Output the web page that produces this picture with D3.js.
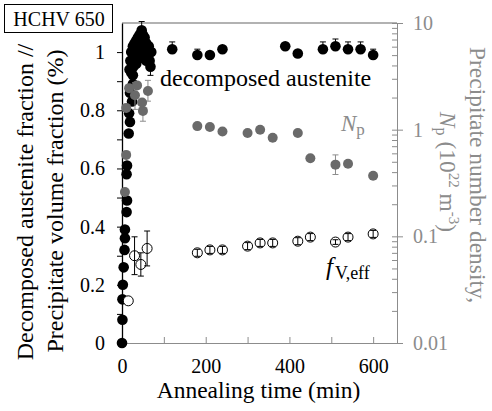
<!DOCTYPE html>
<html>
<head>
<meta charset="utf-8">
<script src="https://cdn.jsdelivr.net/npm/d3@7"></script>
<style>
	body { margin: 0; background: #fff; }
	svg { display: block; font-family: "Liberation Serif", "Times New Roman", serif; }
</style>
</head>
<body>
<svg id="chart" width="492" height="411"></svg>
<script>

// [time (min), fraction, error]
const austenite = [
	[0, 0, 0], [1, 0.08, 0], [1, 0.15, 0], [2, 0.2, 0], [4, 0.26, 0], [6, 0.32, 0],
	[7, 0.36, 0], [7, 0.39, 0], [11, 0.45, 0], [12, 0.49, 0], [11, 0.58, 0], [12, 0.61, 0],
	[16, 0.72, 0], [19, 0.76, 0], [17, 0.79, 0], [24, 0.83, 0], [19, 0.86, 0], [26, 0.89, 0], [26, 0.92, 0],
	[18, 0.94, 0], [20, 0.97, 0], [22, 0.93, 0], [22, 1.0, 0], [24, 0.96, 0], [26, 1.02, 0],
	[27, 0.95, 0], [28, 0.99, 0], [30, 1.03, 0], [30, 0.97, 0], [32, 1.0, 0], [34, 1.04, 0],
	[34, 0.96, 0], [36, 1.01, 0], [38, 1.05, 0], [38, 0.98, 0], [40, 1.02, 0], [42, 1.06, 0],
	[42, 0.99, 0], [44, 1.03, 0], [47, 1.075, 0.03], [46, 1.0, 0], [48, 1.04, 0], [50, 1.06, 0],
	[50, 0.98, 0], [52, 1.02, 0], [54, 1.05, 0], [56, 1.0, 0], [58, 1.03, 0], [58, 0.97, 0],
	[60, 1.01, 0], [62, 0.99, 0], [64, 1.02, 0], [66, 0.97, 0], [68, 0.95, -0.03], [70, 1.0, 0],
	[120, 1.01, 0.025], [180, 0.99, 0.02], [210, 0.99, 0], [240, 1.01, 0], [390, 1.02, 0],
	[420, 0.995, 0], [480, 1.01, 0.025], [510, 1.02, 0.025], [540, 1.01, 0.025],
	[570, 1.01, 0.025], [600, 0.99, 0.02]
];

// [time (min), N_p (10^22 m^-3), low, high]
const numberDensity = [
	[7, 0.26, 0.26, 0.26], [10, 0.58, 0.58, 0.58], [10, 1.6, 1.6, 1.6], [17, 2.45, 2.45, 2.45],
	[31, 2.1, 1.55, 2.75], [36, 2.6, 2.6, 2.6], [48, 1.8, 1.8, 1.8], [50, 1.5, 1.2, 1.85],
	[62, 2.3, 1.85, 2.9],
	[180, 1.08, 1.08, 1.08], [210, 1.06, 1.06, 1.06], [240, 0.96, 0.96, 0.96],
	[300, 0.93, 0.93, 0.93], [330, 1.0, 1.0, 1.0], [360, 0.84, 0.84, 0.84],
	[420, 0.93, 0.93, 0.93], [450, 0.54, 0.54, 0.54], [510, 0.47, 0.38, 0.58],
	[540, 0.48, 0.48, 0.48], [600, 0.37, 0.37, 0.37]
];

// [time (min), f_V,eff (%), error]
const volumeFraction = [
	[15, 0.145, 0], [30, 0.30, 0.065], [45, 0.27, 0.04], [60, 0.325, 0.06],
	[180, 0.31, 0.012], [210, 0.32, 0.012], [240, 0.32, 0.012], [300, 0.333, 0.012],
	[330, 0.344, 0.012], [360, 0.344, 0.012], [420, 0.35, 0.012], [450, 0.364, 0.012],
	[510, 0.347, 0.008], [540, 0.364, 0.012], [600, 0.375, 0.012]
];

const xTicks = [0, 100, 200, 300, 400, 500, 600];
const yTicks = [0, 0.1, 0.2, 0.3, 0.4, 0.5, 0.6, 0.7, 0.8, 0.9, 1.0];
const rTicks = [0.01, 0.1, 1, 10];

const GREY_PT = "#6a6a6a";
const GREY_AX = "#8c8c8c";

class ChartPlot {

	constructor(svg_element_id) {
		this.svg = d3.select('#' + svg_element_id);

		const margin = {left: 122, top: 23, right: 95, bottom: 68};
		const width = 492 - margin.left - margin.right;
		const height = 411 - margin.top - margin.bottom;

		const x = d3.scaleLinear().domain([0, 657]).range([margin.left, margin.left + width]);
		const y = d3.scaleLinear().domain([0, 1.1]).range([margin.top + height, margin.top]);
		const yR = d3.scaleLog().domain([0.01, 10]).range([margin.top + height, margin.top]);

		const bottom = margin.top + height;
		const right = margin.left + width;

		// top frame line
		this.svg.append('line')
			.attr('x1', margin.left).attr('x2', right)
			.attr('y1', margin.top).attr('y2', margin.top)
			.attr('stroke', '#666').attr('stroke-width', 1.2);

		// bottom axis (grey, ticks inward)
		const gx = this.svg.append('g')
			.attr('transform', `translate(0,${bottom})`)
			.call(d3.axisBottom(x).tickValues(xTicks).tickSizeInner(-6).tickSizeOuter(0).tickPadding(16)
				.tickFormat(d => d % 200 === 0 ? d : ''));
		gx.select('.domain').attr('stroke', GREY_AX);
		gx.selectAll('.tick line').attr('stroke', GREY_AX);
		gx.selectAll('text').attr('font-size', 20).attr('fill', '#000').attr('font-family', 'Liberation Serif');

		// right log axis
		const minor = [];
		for (let e = -2; e < 1; e++) {
			for (let m = 2; m <= 9; m++) minor.push(m * Math.pow(10, e));
		}
		const gr = this.svg.append('g').attr('transform', `translate(${right},0)`);
		gr.call(d3.axisRight(yR).tickValues(minor).tickSizeInner(-5).tickSizeOuter(0).tickFormat(''));
		gr.call(g => g.append('g').call(d3.axisRight(yR).tickValues(rTicks).tickSizeInner(6).tickSizeOuter(0)
			.tickPadding(10).tickFormat(d => d3.format('~g')(d))));
		gr.selectAll('.domain').attr('stroke', GREY_AX);
		gr.selectAll('.tick line').attr('stroke', GREY_AX);
		gr.selectAll('text').attr('font-size', 20).attr('fill', GREY_AX).attr('font-family', 'Liberation Serif');
		gr.selectAll('.tick').filter(d => rTicks.includes(d)).select('line').attr('x1', -5);

		// left axis (black)
		const gy = this.svg.append('g')
			.attr('transform', `translate(${margin.left},0)`)
			.call(d3.axisLeft(y).tickValues(yTicks).tickSizeInner(5).tickSizeOuter(0).tickPadding(12)
				.tickFormat(d => Math.round(d * 10) % 2 === 0 ? d3.format('~g')(d) : ''));
		gy.select('.domain').attr('stroke', '#000').attr('stroke-width', 1.3);
		gy.selectAll('text').attr('font-size', 20).attr('fill', '#000').attr('font-family', 'Liberation Serif');

		// axis titles
		this.svg.append('text')
			.attr('transform', `translate(${(margin.left + right) / 2 - 1},398)`)
			.attr('text-anchor', 'middle').attr('font-size', 23.5)
			.text('Annealing time (min)');

		const leftTitle = this.svg.append('g')
			.attr('transform', 'translate(0,202) rotate(-90)')
			.attr('text-anchor', 'middle').attr('font-size', 24);
		leftTitle.append('text').attr('y', 33).text('Decomposed austenite fraction //');
		leftTitle.append('text').attr('y', 63).attr('x', 1).text('Precipitate volume fraction (%)');

		const rightTitle = this.svg.append('g')
			.attr('transform', 'translate(0,175) rotate(90)')
			.attr('text-anchor', 'middle').attr('font-size', 23.5).attr('fill', GREY_AX);
		rightTitle.append('text').attr('y', -470).text('Precipitate number density,');
		const rt2 = rightTitle.append('text').attr('y', -440).attr('x', -3);
		rt2.append('tspan').attr('font-style', 'italic').text('N');
		rt2.append('tspan').attr('font-size', 16).attr('dy', 4).text('p');
		rt2.append('tspan').attr('dy', -4).text(' (10');
		rt2.append('tspan').attr('font-size', 15).attr('dy', -9).text('22');
		rt2.append('tspan').attr('dy', 9).text(' m');
		rt2.append('tspan').attr('font-size', 15).attr('dy', -9).text('-3');
		rt2.append('tspan').attr('dy', 9).text(')');

		// sample label box
		this.svg.append('rect')
			.attr('x', 4.5).attr('y', 4.5).attr('width', 108).attr('height', 28)
			.attr('fill', '#fff').attr('stroke', '#000').attr('stroke-width', 1);
		this.svg.append('text').attr('x', 59).attr('y', 26)
			.attr('text-anchor', 'middle').attr('font-size', 20).text('HCHV 650');

		const errBar = (g, data, sx, sy, lo, hi, colour) => {
			const eb = g.selectAll('g.eb').data(data.filter(d => lo(d) !== hi(d))).enter().append('g')
				.attr('stroke', colour).attr('stroke-width', 1);
			eb.append('line').attr('x1', d => sx(d[0])).attr('x2', d => sx(d[0]))
				.attr('y1', d => sy(lo(d))).attr('y2', d => sy(hi(d)));
			eb.append('line').attr('x1', d => sx(d[0]) - 3).attr('x2', d => sx(d[0]) + 3)
				.attr('y1', d => sy(lo(d))).attr('y2', d => sy(lo(d)));
			eb.append('line').attr('x1', d => sx(d[0]) - 3).attr('x2', d => sx(d[0]) + 3)
				.attr('y1', d => sy(hi(d))).attr('y2', d => sy(hi(d)));
		};

		// decomposed austenite
		const gA = this.svg.append('g');
		errBar(gA, austenite, x, y, d => d[1], d => d[1] + d[2], '#000');
		gA.selectAll('circle').data(austenite).enter().append('circle')
			.attr('cx', d => x(d[0])).attr('cy', d => y(d[1])).attr('r', 5.3)
			.attr('fill', '#000');

		// precipitate number density
		const gN = this.svg.append('g');
		errBar(gN, numberDensity, x, yR, d => d[2], d => d[3], GREY_AX);
		gN.selectAll('circle').data(numberDensity).enter().append('circle')
			.attr('cx', d => x(d[0])).attr('cy', d => yR(d[1])).attr('r', 5)
			.attr('fill', GREY_PT);

		// effective volume fraction
		const gF = this.svg.append('g');
		gF.selectAll('circle').data(volumeFraction).enter().append('circle')
			.attr('cx', d => x(d[0])).attr('cy', d => y(d[1])).attr('r', 5)
			.attr('fill', '#fff').attr('stroke', '#000').attr('stroke-width', 1);
		errBar(gF, volumeFraction, x, y, d => d[1] - d[2], d => d[1] + d[2], '#000');

		// annotations
		this.svg.append('text').attr('x', 160).attr('y', 86).attr('font-size', 24)
			.text('decomposed austenite');

		const np = this.svg.append('text').attr('x', 341).attr('y', 131).attr('font-size', 23).attr('fill', GREY_AX);
		np.append('tspan').attr('font-style', 'italic').text('N');
		np.append('tspan').attr('font-size', 17).attr('dy', 4).text('p');

		const fv = this.svg.append('text').attr('x', 326).attr('y', 275).attr('font-size', 25);
		fv.append('tspan').attr('font-style', 'italic').text('f');
		fv.append('tspan').attr('font-size', 18).attr('dy', 4).attr('dx', 2).text('V,eff');
	}

}

function whenDocumentLoaded(action) {
	if (document.readyState === "loading") {
		document.addEventListener("DOMContentLoaded", action);
	} else {
		action();
	}
}

whenDocumentLoaded(() => {
	plot_object = new ChartPlot('chart');
});
</script>
</body>
</html>
